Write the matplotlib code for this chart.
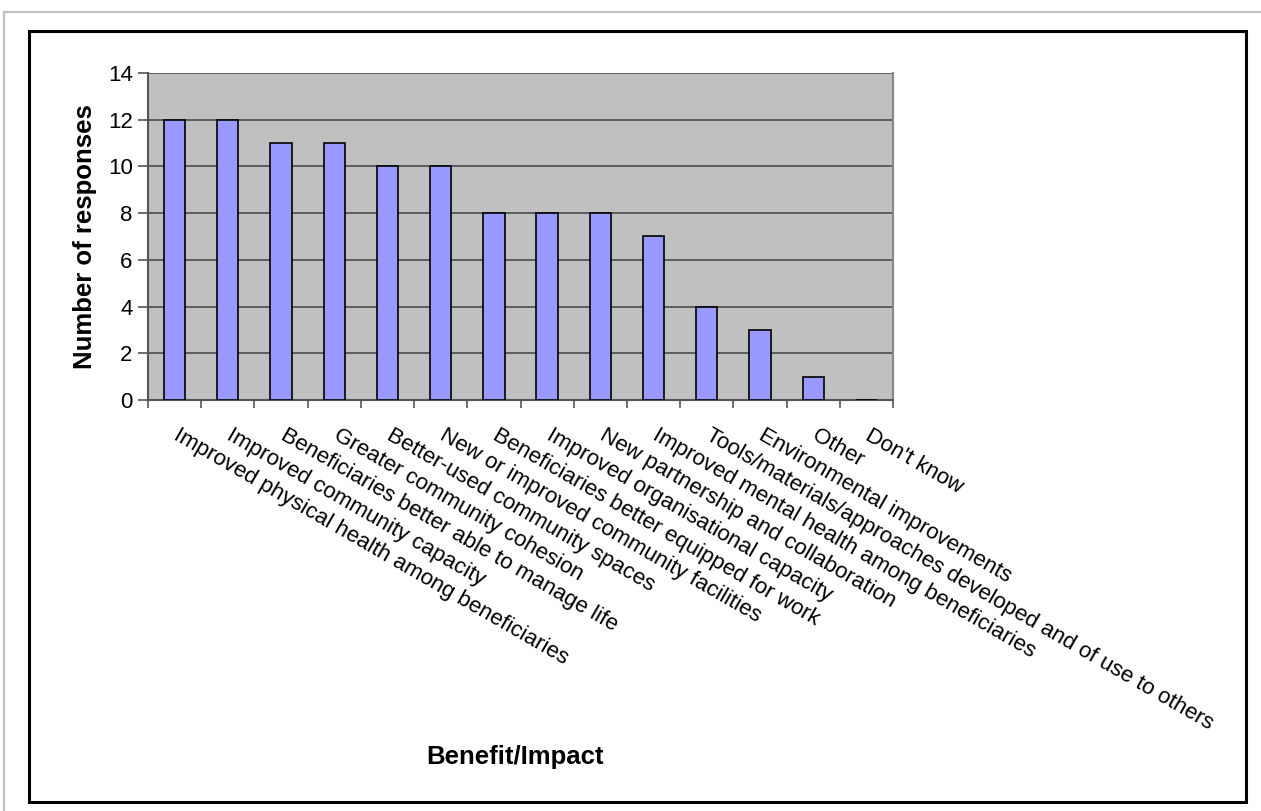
import matplotlib.pyplot as plt
from matplotlib.patches import Rectangle
from matplotlib.lines import Line2D

plt.rcParams['font.family'] = ['Liberation Sans', 'DejaVu Sans']

# data
categories = [
    'Improved physical health among beneficiaries',
    'Improved community capacity',
    'Beneficiaries better able to manage life',
    'Greater community cohesion',
    'Better-used community spaces',
    'New or improved community facilities',
    'Beneficiaries better equipped for work',
    'Improved organisational capacity',
    'New partnership and collaboration',
    'Improved mental health among beneficiaries',
    'Tools/materials/approaches developed and of use to others',
    'Environmental improvements',
    'Other',
    "Don't know",
]
responses = [12, 12, 11, 11, 10, 10, 8, 8, 8, 7, 4, 3, 1, 0]
y_ticks = [0, 2, 4, 6, 8, 10, 12, 14]

W, H = 1261, 811
fig = plt.figure(figsize=(W / 100, H / 100), dpi=100)

# outer page line (light gray) and black chart frame
fig.add_artist(Line2D([4 / W, 4 / W], [0, 1 - 12 / H], transform=fig.transFigure,
                      color='#c0c0c0', lw=1.6))
fig.add_artist(Line2D([4 / W, 1], [1 - 12 / H, 1 - 12 / H], transform=fig.transFigure,
                      color='#c0c0c0', lw=1.6))
fig.add_artist(Rectangle((29 / W, 1 - 802 / H), (1246 - 29) / W, (802 - 31) / H,
                         transform=fig.transFigure, fill=False, ec='black', lw=2.2))

ax = fig.add_axes([148 / W, 1 - 400 / H, (893 - 148) / W, (400 - 73) / H])
ax.set_facecolor('#c0c0c0')

x = list(range(len(categories)))
ax.bar(x, responses, width=0.4, color='#9999ff', edgecolor='black', linewidth=1.2, zorder=3)

ax.set_xlim(-0.5, len(categories) - 0.5)
ax.set_ylim(0, 14)
ax.set_yticks(y_ticks)
ax.tick_params(axis='y', labelsize=16, direction='out', length=7, width=1.2,
               color='#555555', pad=4)
ax.set_xticks([i - 0.5 for i in range(len(categories) + 1)])
ax.set_xticklabels([])
ax.tick_params(axis='x', direction='out', length=6, width=1.2, color='#555555')
ax.grid(axis='y', color='#555555', linewidth=1.3, zorder=1)
ax.set_axisbelow(True)

for s in ['left', 'bottom']:
    ax.spines[s].set_color('#555555')
    ax.spines[s].set_linewidth(1.5)
ax.spines['top'].set_visible(False)
ax.spines['right'].set_color('#888888')
ax.spines['right'].set_linewidth(1.5)

# slanted category labels
for i, name in enumerate(categories):
    ax.annotate(name, xy=(i, 0), xycoords='data', xytext=(6, -25),
                textcoords='offset pixels', rotation=-30, rotation_mode='anchor',
                ha='left', va='top', fontsize=16, annotation_clip=False)

ax.set_ylabel('Number of responses', fontsize=18.5, fontweight='bold', labelpad=8)
fig.text(515 / W, 1 - 757 / H, 'Benefit/Impact', fontsize=18.5, fontweight='bold',
         ha='center', va='center')

fig.savefig('out.png', dpi=100)
